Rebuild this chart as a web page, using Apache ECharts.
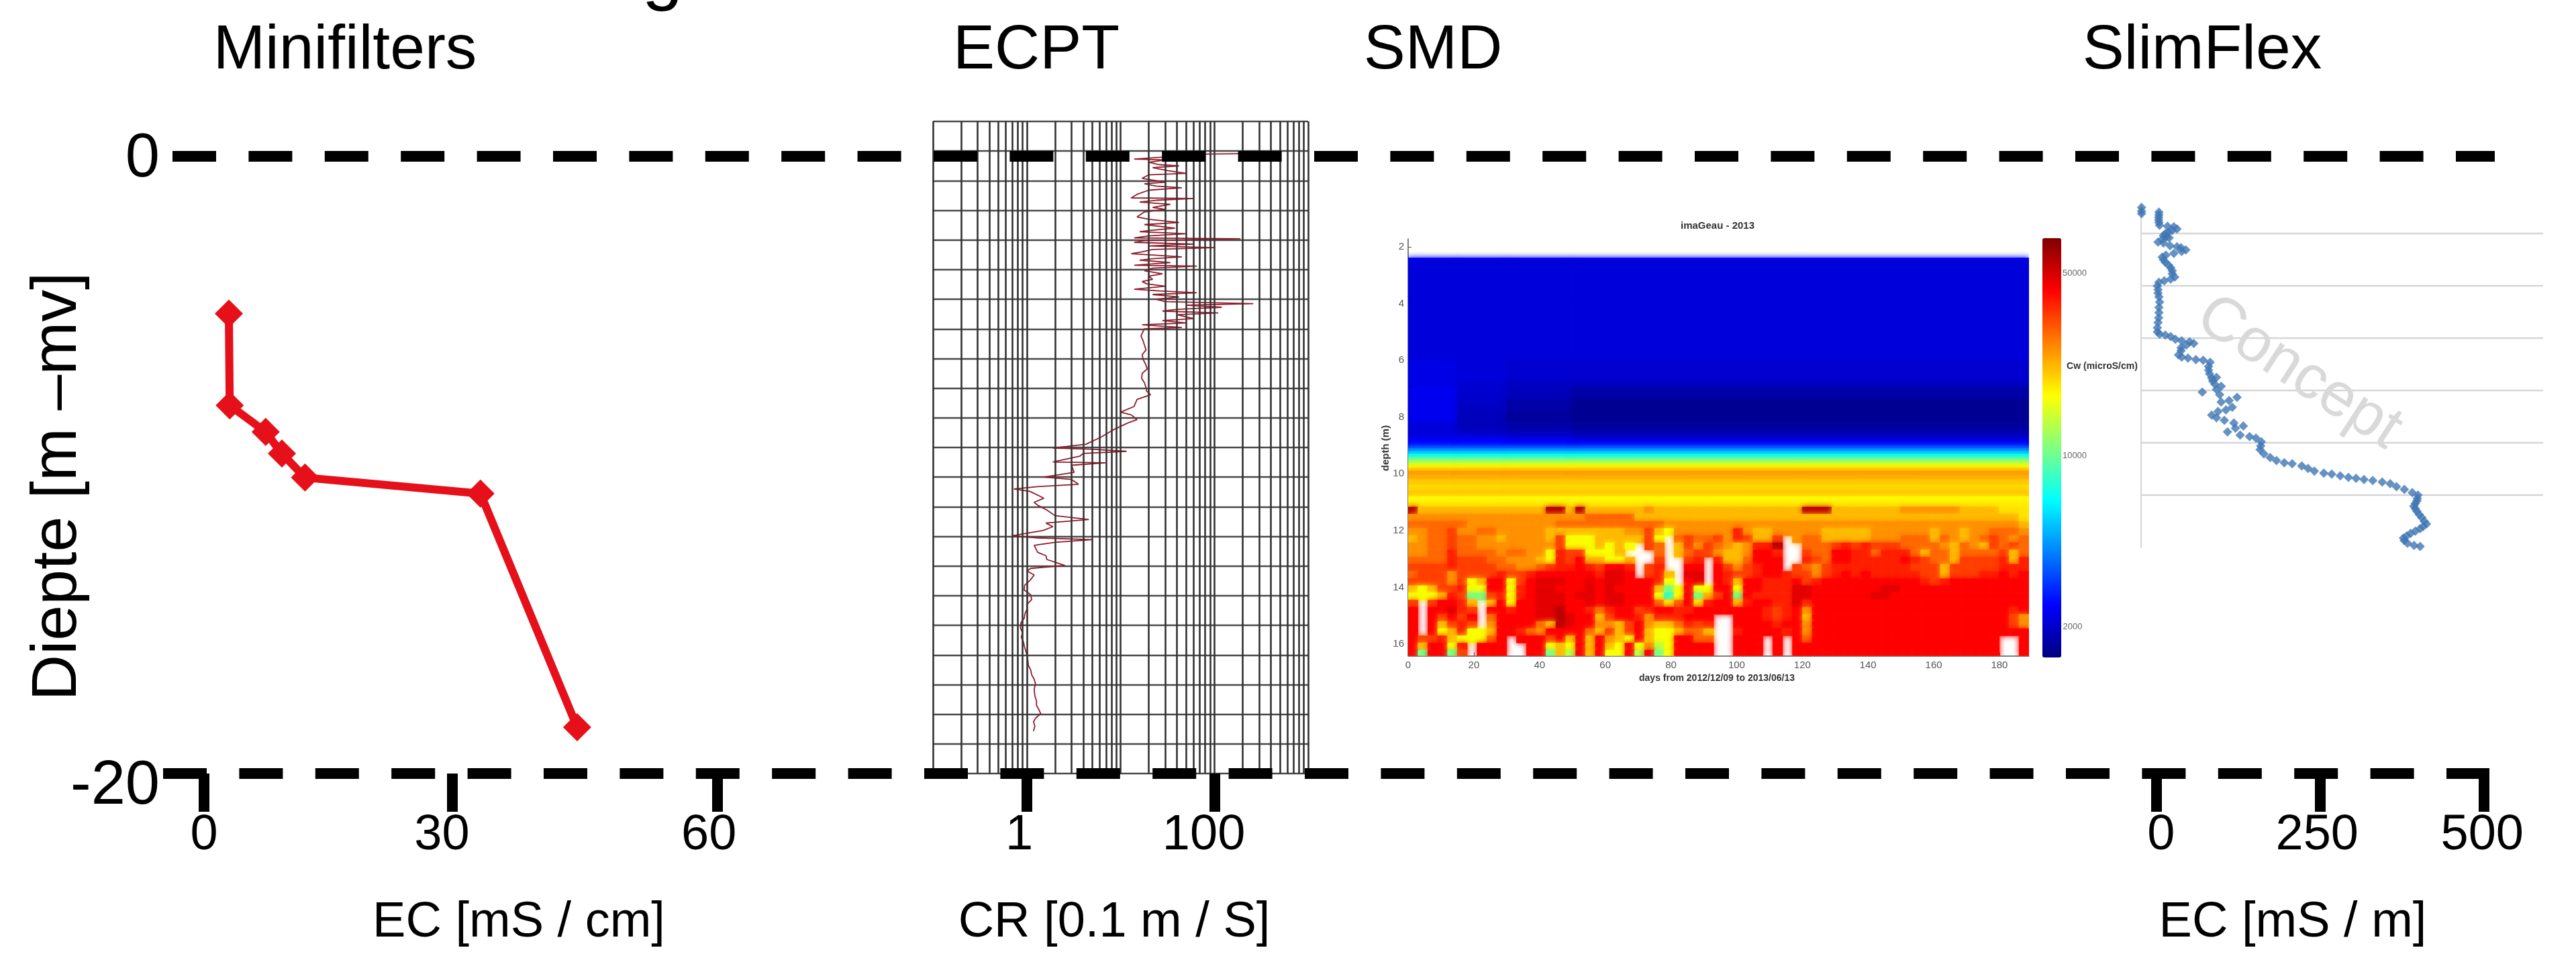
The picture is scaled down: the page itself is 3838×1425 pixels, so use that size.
<!DOCTYPE html>
<html><head><meta charset="utf-8">
<style>html,body{margin:0;padding:0;background:#fff}#c{width:3838px;height:1425px}</style>
<script src="https://cdn.jsdelivr.net/npm/echarts@6/dist/echarts.min.js"></script>
</head><body><div id="c"></div>
<script>
// ---------- Minifilters ----------
const miniEC    = [2.9, 3.0, 7.2, 9.1, 11.8, 32.3, 43.6];
const miniDepth = [-5.1, -8.07, -8.93, -9.63, -10.41, -10.93, -18.5];
const miniTickPos = [0, 29, 60];
const miniLabelPos = [0, 27.8, 59];
const miniLabels = ['0', '30', '60'];
// ---------- ECPT (log conductivity ratio vs grid rows) ----------
const crGridLines = [0.1,0.2,0.3,0.4,0.5,0.6,0.7,0.8,0.9,1,2,3,4,5,6,7,8,9,10,20,30,40,50,60,70,80,90,100,200,300,400,500,600,700,800,900,1000];
const crTickDecades = [0, 2];
const crLabelDecades = [-0.08, 1.888];
const crLabels = ['1', '100'];
const crValue = [190,85,14,30,20,26,42,22,32,50,20,17,30,18,24,45,20,15,13,60,24,16,34,22,30,18,15,20,42,18,38,20,16,50,20,14,190,18,14,60,20,100,22,17,13,45,22,16,34,14,65,22,18,28,20,22,17,19,30,14,26,65,22,42,24,30,260,50,120,40,28,110,40,60,28,50,17,45,18,
17.4,16.5,17.4,18,18.7,17,17.4,18.5,19.3,17,16.8,18,18.7,19,20.9,15,13.9,10,13,15,12,8.3,6.2,4.3,1.9,5,11.6,4,3.7,1.9,6.9,3,3.2,1.52,3,3.56,1.3,0.73,1.08,1.52,1.2,1.31,1.64,2,4.6,1.6,1.9,1.5,0.7,1.3,4.95,2,1.2,1.31,1.6,1.64,2.55,1.1,1.01,1.2,1.08,0.95,0.94,1.1,1.13,1.0,1.01,0.96,0.94,0.87,0.856,0.9,0.875,0.92,0.943,0.98,1.01,1.03,1.04,1.1,1.13,1.2,1.24,1.2,1.22,1.27,1.27,1.35,1.41,1.25,1.18,1.22,1.18];
const crRow = [1.09,1.10,1.27,1.30,1.38,1.46,1.50,1.56,1.66,1.75,1.80,1.92,2.05,2.10,2.18,2.24,2.32,2.46,2.58,2.60,2.66,2.72,2.80,2.90,2.97,3.05,3.22,3.30,3.41,3.48,3.60,3.68,3.72,3.79,3.86,3.93,3.96,4.02,4.08,4.14,4.20,4.26,4.32,4.40,4.46,4.57,4.63,4.68,4.76,4.85,4.88,4.95,5.04,5.14,5.22,5.33,5.40,5.48,5.56,5.66,5.72,5.78,5.84,5.92,6.0,6.08,6.15,6.20,6.27,6.34,6.40,6.46,6.52,6.65,6.72,6.80,6.86,6.95,7.0,
7.08,7.24,7.4,7.55,7.71,7.87,8.03,8.19,8.35,8.5,8.67,8.82,8.98,9.1,9.22,9.38,9.62,9.81,9.9,10.06,10.17,10.41,10.65,10.89,11.02,11.06,11.13,11.2,11.29,11.49,11.52,11.6,11.84,12,12.08,12.24,12.32,12.4,12.48,12.71,12.85,12.95,13.11,13.3,13.43,13.55,13.67,13.8,13.98,14.05,14.11,14.2,14.3,14.54,14.65,14.78,14.98,15.08,15.17,15.3,15.49,15.65,15.81,15.97,16.13,16.3,16.44,16.6,16.76,16.9,17.08,17.25,17.4,17.55,17.71,17.88,18.03,18.2,18.35,18.5,18.67,18.82,18.98,19.15,19.38,19.55,19.7,19.85,19.98,20.12,20.25,20.4,20.57];
// ---------- SMD (imaGeau) : levels are % height on the colour bar ----------
const smdBlockDays = [0, 15, 30, 50, 189];
const smdBands = [
 [2.39,2.47,[12,12,12,12]],[2.47,4,[9,9,9,9]],[4,6,[9,9,9,9]],[6,6.8,[10,9,8,8]],[6.8,7,[10,8,7,6]],
 [7,7.4,[11,8,6,4]],[7.4,7.8,[11,7,4,2]],[7.8,8.2,[11,6,3,2]],[8.2,8.5,[9,6,4,3]],[8.5,8.7,[9,7,6,5]],
 [8.7,8.85,[11,11,10,8]],[8.85,9,[13,13,12,12]],[9,9.1,[18,18,18,18]],[9.1,9.2,[24,24,24,24]],
 [9.2,9.3,[30,30,30,30]],[9.3,9.4,[37,37,37,37]],[9.4,9.5,[43,43,43,43]],[9.5,9.6,[50,50,50,50]],
 [9.6,9.7,[56,56,56,56]],[9.7,9.8,[62,62,62,62]],[9.8,9.9,[66,66,66,66]],[9.9,10.05,[72,72,72,72]],
 [10.05,10.2,[71,71,71,71]],[10.2,10.4,[68,68,68,68]],[10.4,10.6,[66,66,66,66]],[10.6,10.8,[68,68,68,68]],
 [10.8,11,[63,63,63,63]],[11,11.17,[64,64,64,64]]
];
const smdCodes = {R:94,d:90,r:87,s:84,O:81,o:77,m:73,l:69,y:65,Y:62,c:56,g:50,t:42};
const smdCellDays = 3;
const smdRowTop = 11.17;
const smdRowStep = 0.252;
const smdRows = [
 "Rlllllllll llllRRlRll llllmlllll llllllllll RRRlllllll mmmmmmllll yyy",
 "mmmmmmmmmm mmmmmmmmoo ooolllllll llllllllll llllllllll llllllllll lly",
 "oooooommmm mmmmmooooo oooooommmm mmmmmmmmmm mmmmmmmmmm mmmmmmmmmm mml",
 "mmooOmmoom mmmmllllll llmmOlYmmm mmmsmllmmm mmlllllmmm mmmlmmlmmo oom",
 "lmooOoomml mmmmlOYYYl llllOY.oOo oOmsOllO.m oolllllmmm ooolomlmoO omo",
 "mmooOoommm mmmmmOYYYl YlY.Oo.lOm OomlmssR.. oooOsOsOOO oooomlomlO oOo",
 "mmoosoooom oommYsOOYY Yl...o.loO Omllmrrs.. Ooorrssoss solooloooo Olo",
 "oooosOOOoo mmmlYsOrll YYl..O..Os .sllorrr.. sOorrsssss rsOoolOOOO sls",
 "OOOOsOOOOo ommoOssrsO rrs.Os..rr .rOmOsrr.O omOsssssss sOOOlOOOOO sss",
 "oOOOmOOOOs OOsrrrrrrs ddr.Osl.dd .rsOOsrrsO OmOsrsrsss ssOOlOOOss rsr",
 "OOOOmOYlrr YOrdddrrdr ddrrrsY.rd .rslrrsssr Osrrrrrrrr rrsOsrrrrr rrr",
 "lYlOOsYYrr Ysrddrrrdr drrrrlgYrY YrrYrrsssd drrrrrrrdd rrrrrrrrrr rrr",
 "YYYlsOggOs Ysrdddrddr ddrrrYtYrg lOrgrssssd drrrrrrddr rrrrrrrrrr rrr",
 "O.Orrsl.lr Yrrdddrrdr ddrrroyory srrlsrrssd srrrrrrrrr rrrrrrrrrr rrr",
 "r.rrdsO.rr srrddRrrso srrOsrrssr rrrrrrsOsr mrrrrrrrrr rrrrrrrrrr rsr",
 "r.rOrOr.or rrrddRdrrl Orrsmsssrr r..rrrsOsr lrrrrrrrrr rrrrrrrrrr rOm",
 "r.rlOsO.mr rrrolRdrrm mlOrmllosO s..rrrrsrr mrrrrrrrrr rrrrrrrrrr rOm",
 "r.rYlsYYlr rsomrrrrol OlOrlYYloo l..srrrrsr mrrrrrrrrr rrrrrrrrrr rrr",
 "rOOslYYYor .rrrOrlrlr mlYrlYYrro o..rrr.r.r orrrrrrrrr rrrrrrrrrr ..r",
 "rlrrYs.rrr ..rrYlYrlr lYrYmcYrrr r..rrr.r.r rrrrrrrrrr rrrrrrrrrr ..r",
 "rgrrgO.rrr ..rrglcrlr YYrcrgYrrr r..rrr.r.r rrrrrrrrrr rrrrrrrrrr ..r"
];
const smdDayTicks = [0,20,40,60,80,100,120,140,160,180];
const smdDepthTicks = [2,4,6,8,10,12,14,16];
const cwBarLabels = ['50000','10000','2000'];
// ---------- SlimFlex ----------
const slimEC = [-22.8,-22.8,-22.8,3.7,3.7,3.3,3.3,3.7,4.7,16.8,26.4,31.2,24,18.2,13.4,10.5,15.3,19.2,8.6,2.3,10.5,20.6,31.2,37.5,44.7,38.4,26.4,14.3,8.6,10.5,13.4,18.2,21.6,24,24,27.8,21.6,11.9,3.7,1.3,2.3,2.3,3.7,4.7,3.7,3.7,3.3,2.3,1.3,1.3,4.7,13.4,21.6,28.8,38.4,50.5,56.8,45.7,37.5,37.5,33.6,38.4,48,60.1,71.2,81.8,79.4,79.4,80.9,84.2,91.5,85.7,89,98.7,91.5,69.8,96.3,122.8,110.7,98.7,115.6,105.9,93.9,84.2,91.5,103.5,118,132.4,120.4,108.3,127.6,142,151.7,159.9,159,158,163.8,173.4,183,195,207,221.6,231.2,240.9,255.3,267.4,280.4,292.9,304.5,316.6,330,344.5,356.6,366.2,378.3,390.3,399,397.5,392.7,397.5,404.8,412,402.3,387.9,376.8,383,402.3,
 398,395,395,401,408.6,407,395,382,378,393];
const slimDepth = [0.50,0.57,0.62,0.59,0.64,0.69,0.74,0.79,0.84,0.86,0.87,0.91,0.94,0.97,1.0,1.04,1.06,1.08,1.11,1.16,1.18,1.23,1.25,1.27,1.31,1.34,1.38,1.41,1.45,1.50,1.55,1.60,1.65,1.71,1.77,1.83,1.87,1.90,1.93,2.0,2.07,2.14,2.21,2.31,2.41,2.51,2.61,2.70,2.80,2.88,2.92,2.94,2.97,3.02,3.05,3.07,3.10,3.13,3.18,3.24,3.32,3.36,3.38,3.41,3.42,3.46,3.54,3.61,3.68,3.76,3.75,3.82,3.88,3.92,3.98,4.03,4.08,4.13,4.19,4.22,4.32,4.37,4.40,4.47,4.52,4.57,4.62,4.68,4.72,4.79,4.85,4.88,4.91,4.98,5.06,5.13,5.21,5.28,5.34,5.38,5.40,5.44,5.49,5.54,5.58,5.60,5.63,5.66,5.68,5.70,5.72,5.75,5.78,5.84,5.89,5.95,6.0,6.11,6.21,6.31,6.43,6.55,6.64,6.73,6.82,6.92,6.98,
 6.06,6.16,6.26,6.37,6.5,6.6,6.69,6.78,6.87,6.96];
const slimGridRows = [1,2,3,4,5,6];
const slimTicks = [0,250,500];
const slimLabelPos = [7,245,497];
const slimLabels = ['0','250','500'];
// ---------- Frame ----------
const depthTicksPos = [-20.42, -0.1];
const depthLabels = ['-20', '0'];

const F = '"Liberation Sans", Arial, sans-serif';
const zip = (a, b) => a.map((v, i) => [v, b[i]]);

// build SMD cells
const smdCells = [];
smdBands.forEach(([d0, d1, lv]) => lv.forEach((v, i) =>
  smdCells.push([smdBlockDays[i], smdBlockDays[i+1], d0, d1, v])));
smdRows.forEach((row, k) => {
  const s = row.replace(/ /g, '');
  for (let c = 0; c < s.length; c++) {
    if (s[c] === '.') continue;
    smdCells.push([c*smdCellDays, (c+1)*smdCellDays, smdRowTop+k*smdRowStep, smdRowTop+(k+1)*smdRowStep, smdCodes[s[c]]]);
  }
});

const W = 3838, H = 1425;
function bigXAxis(gridIndex, min, max, tickPos, labelPos, labels) {
  return {type:'value', gridIndex, min, max, position:'bottom', axisLine:{show:false, onZero:false},
    splitLine:{show:false},
    axisTick:{show:true, customValues:tickPos, length:57, lineStyle:{color:'#000', width:16, cap:'butt'}},
    axisLabel:{show:true, customValues:labelPos, margin:56, fontFamily:F, fontSize:74, lineHeight:74, color:'#000',
      formatter:v=>labels[labelPos.indexOf(v)]}};
}
function lineMarks(xAxisIndex, yAxisIndex, data, color, width, z) {
  return {type:'line', xAxisIndex, yAxisIndex, data:[], z, silent:true,
    markLine:{silent:true, symbol:'none', animation:false, label:{show:false},
      lineStyle:{color, width, type:'solid'}, emphasis:{disabled:true}, data}};
}
function txt(text, x, y, size, rotation, fill, weight) {
  return {type:'text', x, y, rotation:rotation||0, z:30, silent:true,
    style:{text, fill:fill||'#000', font:(weight||'normal')+' '+size+'px '+F, align:'center', verticalAlign:'middle'}};
}

const chart = echarts.init(document.getElementById('c'), null, {width:W, height:H, renderer:'canvas'});
chart.setOption({
  animation:false, backgroundColor:'#fff',
  grid:[
    {left:243, width:3466, top:233, height:966},
    {left:304, width:765, top:233, height:920},
    {left:1390, width:559, top:181, height:972},
    {left:2098, width:925, top:356, height:621.5},
    {left:3190, width:599, top:303, height:513},
    {left:3190, width:599, top:233, height:920}
  ],
  xAxis:[
    {type:'value', gridIndex:0, min:0, max:3466, show:false},
    bigXAxis(1, 0, 60, miniTickPos, miniLabelPos, miniLabels),
    {type:'log', logBase:10, gridIndex:2, min:0.1, max:1000, axisLine:{show:false, onZero:false}, axisTick:{show:false}, axisLabel:{show:false}, splitLine:{show:false}, minorTick:{show:false}},
    bigXAxis(2, -1, 3, crTickDecades, crLabelDecades, crLabels),
    {type:'value', gridIndex:3, min:0, max:189, position:'bottom', splitLine:{show:false},
      axisLine:{show:true, onZero:false, lineStyle:{color:'#555', width:1.5}},
      axisTick:{show:true, inside:true, customValues:smdDayTicks, length:5, lineStyle:{color:'#555'}},
      axisLabel:{customValues:smdDayTicks, margin:7, fontFamily:F, fontSize:15, color:'#555'}},
    {type:'value', gridIndex:4, min:-23.6, max:590, show:false},
    bigXAxis(5, -23.6, 590, slimTicks, slimLabelPos, slimLabels)
  ],
  yAxis:[
    {type:'value', gridIndex:0, min:-21, max:0, axisLine:{show:false, onZero:false}, axisTick:{show:false}, splitLine:{show:false},
      axisLabel:{customValues:depthTicksPos, margin:5, fontFamily:F, fontSize:92, color:'#000', formatter:v=>depthLabels[depthTicksPos.indexOf(v)]}},
    {type:'value', gridIndex:1, min:-20, max:0, show:false},
    {type:'value', gridIndex:2, min:0, max:22, interval:1, inverse:true, axisLine:{show:false, onZero:false}, axisTick:{show:false}, axisLabel:{show:false},
      splitLine:{show:true, lineStyle:{color:'#4a4a4a', width:2.4}}},
    {type:'value', gridIndex:3, min:1.72, max:16.41, inverse:true, splitLine:{show:false},
      axisLine:{show:true, onZero:false, lineStyle:{color:'#555', width:1.5}},
      axisTick:{show:true, inside:true, customValues:smdDepthTicks, length:5, lineStyle:{color:'#555'}},
      axisLabel:{customValues:smdDepthTicks, margin:6, fontFamily:F, fontSize:15, color:'#555'}},
    {type:'value', gridIndex:4, min:0.42, max:7, inverse:true, splitLine:{show:false}, axisTick:{show:false}, axisLabel:{show:false},
      axisLine:{show:true, onZero:false, lineStyle:{color:'#d6d6d6', width:2}}},
    {type:'value', gridIndex:5, min:-20, max:0, show:false}
  ],
  visualMap:[{type:'continuous', seriesIndex:3, dimension:4, min:0, max:100, left:3043, top:355, itemWidth:28, itemHeight:625,
    padding:0, calculable:false, text:null, showLabel:false,
    inRange:{color:['#000080','#0000ff','#0080ff','#00ffff','#80ff80','#ffff00','#ff8000','#ff0000','#800000']},
    textStyle:{color:'#555'}, hoverLink:false}],
  series:[
    lineMarks(2, 2, crGridLines.map(v=>({xAxis:v})), '#333', 2.6, 1),
    {type:'line', xAxisIndex:2, yAxisIndex:2, data:zip(crValue, crRow), showSymbol:false, symbol:'none', z:3,
      lineStyle:{color:'#8e1d2d', width:1.8}},
    {type:'line', xAxisIndex:1, yAxisIndex:1, data:zip(miniEC, miniDepth), symbol:'diamond', symbolSize:42, z:5,
      lineStyle:{color:'#e5101a', width:12}, itemStyle:{color:'#e5101a'}},
    {type:'custom', xAxisIndex:4, yAxisIndex:3, data:smdCells, clip:true, z:2, silent:true,
      encode:{x:[0,1], y:[2,3]},
      renderItem:(p, api)=>{
        const a = api.coord([api.value(0), api.value(2)]);
        const b = api.coord([api.value(1), api.value(3)]);
        const c = api.visual('color');
        return {type:'rect', shape:{x:a[0], y:a[1], width:b[0]-a[0], height:b[1]-a[1]},
          style:{fill:c, stroke:c, lineWidth:0.6, shadowBlur:9, shadowColor:c}};
      }},
    lineMarks(5, 4, slimGridRows.map(v=>({yAxis:v})), '#d6d6d6', 2.4, 1),
    {type:'scatter', xAxisIndex:5, yAxisIndex:4, data:zip(slimEC, slimDepth), symbol:'diamond', symbolSize:14, z:5,
      itemStyle:{color:'#3f77b4'}},
    {type:'line', xAxisIndex:0, yAxisIndex:0, data:[[14,0],[3478,0]], symbol:'none', z:10, clip:false,
      lineStyle:{color:'#000', width:16, type:[65,48.4], cap:'butt'}},
    {type:'line', xAxisIndex:0, yAxisIndex:0, data:[[0,-20],[3466,-20]], symbol:'none', z:10,
      lineStyle:{color:'#000', width:16, type:[65,48.4], cap:'butt'}}
  ],
  graphic:[
    ...[['Minifilters',514,76],['ECPT',1544,76],['SMD',2135,76],['SlimFlex',3281,76]].map(([t,x,y])=>txt(t,x,y,93)),
    txt('g', 987, -36, 110),
    txt('EC [mS / cm]', 773, 1376, 74),
    txt('CR [0.1 m / S]', 1660, 1376, 74),
    txt('EC [mS / m]', 3416, 1376, 74),
    txt('Diepte [m \u2013mv]', 87, 725, 95, Math.PI/2),
    txt('Concept', 3425, 556, 92, -33*Math.PI/180, '#d9d9d9'),
    txt('imaGeau - 2013', 2559, 337, 15, 0, '#333', 'bold'),
    txt('days from 2012/12/09 to 2013/06/13', 2558, 1011, 14, 0, '#333', 'bold'),
    txt('depth (m)', 2065, 668, 15, Math.PI/2, '#333', 'bold'),
    txt('Cw (microS/cm)', 3132, 546, 14, 0, '#333', 'bold'),
    txt(cwBarLabels[0], 3091, 407, 13, 0, '#666'),
    txt(cwBarLabels[1], 3091, 679, 13, 0, '#666'),
    txt(cwBarLabels[2], 3088, 934, 13, 0, '#666')
  ]
});
</script></body></html>
